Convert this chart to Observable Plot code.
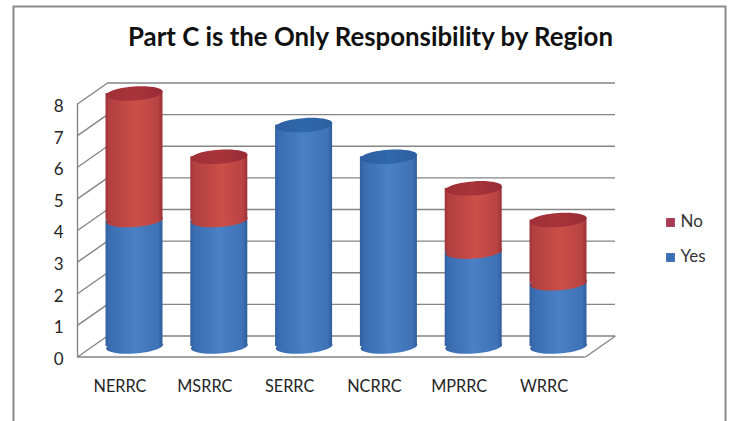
<!DOCTYPE html>
<html>
<head>
<meta charset="utf-8">
<script src="https://cdn.jsdelivr.net/npm/d3@7"></script>
<script src="https://cdn.jsdelivr.net/npm/@observablehq/plot@0.6"></script>
<style>html,body{margin:0;padding:0;background:#fff}svg{display:block}</style>
</head>
<body>
<div id="chart"></div>
<script>
const titleText = "Part C is the Only Responsibility by Region";
const categories = ["NERRC", "MSRRC", "SERRC", "NCRRC", "MPRRC", "WRRC"];
const yesValues = [4, 4, 7, 6, 3, 2];
const noValues = [4, 2, 0, 0, 2, 2];
const yTicks = [0, 1, 2, 3, 4, 5, 6, 7, 8];
const legendLabels = ["No", "Yes"];
const legendColors = ["#a93a55", "#3a6db1"];

const font = "Lato, 'Open Sans', sans-serif";
const depthX = 0.354, depthY = 0.332, halfBar = 0.336;
const idx = categories.map((_, i) => i);
const xMin = -0.672, xMax = 5.672;

// flat ellipse used as dot symbol for the cylinder caps
const capSymbol = {
  draw(c) {
    const rx = 28.4, ry = 7, k = 0.5523;
    c.moveTo(-rx, 0);
    c.bezierCurveTo(-rx, -ry * k, -rx * k, -ry, 0, -ry);
    c.bezierCurveTo(rx * k, -ry, rx, -ry * k, rx, 0);
    c.bezierCurveTo(rx, ry * k, rx * k, ry, 0, ry);
    c.bezierCurveTo(-rx * k, ry, -rx, ry * k, -rx, 0);
    c.closePath();
  }
};

function gradient(defs, id, stops) {
  const g = defs.append("linearGradient").attr("id", id).attr("x1", 0).attr("x2", 1).attr("y1", 0).attr("y2", 0);
  stops.forEach(([o, c]) => g.append("stop").attr("offset", o).attr("stop-color", c));
}
const defsMark = () => {
  const d = d3.create("svg:defs");
  gradient(d, "blueBody", [[0, "#305f9f"], [0.06, "#3a6cb0"], [0.5, "#4a80c6"], [0.92, "#3f72b6"], [1, "#2f5d9b"]]);
  gradient(d, "redBody", [[0, "#9e3238"], [0.06, "#b23f40"], [0.55, "#cb4f48"], [0.92, "#b94343"], [1, "#9a3036"]]);
  gradient(d, "blueCap", [[0, "#2d5f9f"], [0.5, "#3068ad"], [1, "#2d5f9f"]]);
  gradient(d, "redCap", [[0, "#a02f38"], [0.5, "#a8343a"], [1, "#982c36"]]);
  return d.node();
};

const rot = -4;
const redIdx = idx.filter(i => noValues[i] > 0);
const total = i => yesValues[i] + noValues[i];
const gridColor = "#858585";
const gridWidth = 1.4;

const plot = Plot.plot({
  width: 731,
  height: 421,
  marginLeft: 77,
  marginRight: 116,
  marginTop: 93,
  marginBottom: 75,
  style: {background: "#fff", fontFamily: font},
  x: {domain: [xMin, xMax]},
  y: {domain: [0, 8]},
  marks: [
    defsMark,
    // chart border
    Plot.frame({stroke: "#8a8a8a", strokeWidth: 2, insetLeft: -64, insetTop: -87, insetRight: -110, insetBottom: -80}),
    // back wall gridlines
    Plot.ruleY(yTicks, {y: d => d + depthY, x1: xMin + depthX, x2: xMax, stroke: gridColor, strokeWidth: gridWidth}),
    // side wall diagonals
    Plot.link(yTicks, {x1: xMin, x2: xMin + depthX, y1: d => d - depthY, y2: d => d + depthY, stroke: gridColor, strokeWidth: gridWidth}),
    // front axis and floor
    Plot.ruleX([xMin], {y1: 0 - depthY, y2: 8 - depthY, stroke: gridColor, strokeWidth: gridWidth}),
    Plot.ruleY([0 - depthY], {x1: xMin, x2: xMax - depthX, stroke: gridColor, strokeWidth: gridWidth}),
    Plot.link([0], {x1: xMax - depthX, x2: xMax, y1: -depthY, y2: depthY, stroke: gridColor, strokeWidth: gridWidth}),
    // blue bodies
    Plot.dot(idx, {x: i => i, y: 0, symbol: capSymbol, rotate: rot, fill: "url(#blueBody)"}),
    Plot.rect(idx, {x1: i => i - halfBar, x2: i => i + halfBar, y1: 0, y2: i => yesValues[i], fill: "url(#blueBody)"}),
    Plot.dot(idx.filter(i => noValues[i] === 0), {x: i => i, y: i => yesValues[i], symbol: capSymbol, rotate: rot, fill: "url(#blueCap)"}),
    // red bodies
    Plot.dot(redIdx, {x: i => i, y: i => yesValues[i], symbol: capSymbol, rotate: rot, fill: "url(#redBody)"}),
    Plot.rect(redIdx, {x1: i => i - halfBar, x2: i => i + halfBar, y1: i => yesValues[i], y2: total, fill: "url(#redBody)"}),
    Plot.dot(redIdx, {x: i => i, y: total, symbol: capSymbol, rotate: rot, fill: "url(#redCap)"}),
    // axes
    Plot.axisY(yTicks, {y: d => d, anchor: "left", tickSize: 0, tickPadding: 0, dx: -14, dy: 13, fontSize: 17, fill: "#262626", label: null, fontFamily: font}),
    Plot.axisX(idx, {x: d => d, tickFormat: i => categories[i], anchor: "bottom", tickSize: 0, tickPadding: 0, dx: -14.5, dy: 34, fontSize: 16.3, fill: "#262626", label: null, fontFamily: font}),
    // title
    Plot.text([titleText], {frameAnchor: "top-left", dx: 293, dy: -56, text: d => d, fontSize: 25.8, fontWeight: 700, fill: "#111", fontFamily: font, textAnchor: "middle", lineAnchor: "middle"}),
    // legend
    ...legendLabels.flatMap((label, i) => [
      Plot.dot([label], {frameAnchor: "top-left", dx: 593, dy: 129 + i * 35, symbol: "square", r: 5, fill: legendColors[i]}),
      Plot.text([label], {frameAnchor: "top-left", dx: 603, dy: 128 + i * 35, text: d => d, textAnchor: "start", lineAnchor: "middle", fontSize: 17, fill: "#333", fontFamily: font})
    ])
  ]
});
document.getElementById("chart").append(plot);
</script>
</body>
</html>
